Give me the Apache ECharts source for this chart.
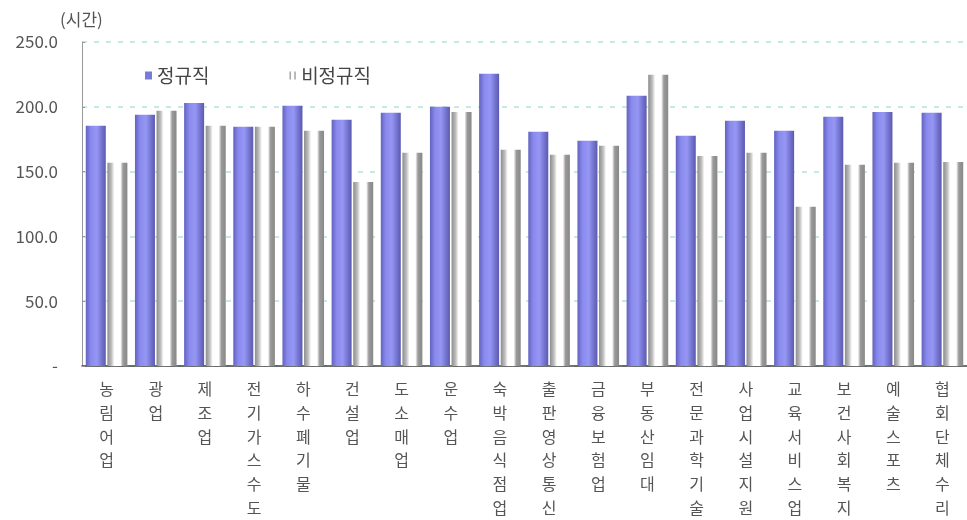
<!DOCTYPE html>
<html>
<head>
<meta charset="utf-8">
<script src="https://cdn.jsdelivr.net/npm/echarts@6/dist/echarts.min.js"></script>
<style>
    html, body { margin: 0; padding: 0; background: #fff; }
    #chart { width: 967px; height: 520px; }
</style>
</head>
<body>
<div id="chart"></div>
<script>
	// 산업 분류
	var categories = ['농림어업', '광업', '제조업', '전기가스수도', '하수폐기물', '건설업', '도소매업', '운수업',
		'숙박음식점업', '출판영상통신', '금융보험업', '부동산임대', '전문과학기술', '사업시설지원',
		'교육서비스업', '보건사회복지', '예술스포츠', '협회단체수리']
	// 정규직 근로시간
	var regular = [185.3, 193.8, 203.0, 184.6, 200.8, 190.0, 195.4, 200.0, 225.5, 180.7,
		173.8, 208.5, 177.6, 189.2, 181.5, 192.3, 196.0, 195.4]
	// 비정규직 근로시간
	var irregular = [156.8, 196.9, 185.3, 184.6, 181.5, 142.0, 164.5, 196.0, 166.8, 163.0,
		170.0, 224.7, 162.0, 164.5, 122.8, 155.2, 156.8, 157.5]
	var yTicks = [0, 50, 100, 150, 200, 250]

	var chart = echarts.init(document.getElementById('chart'))
	var font = '"Noto Sans CJK KR", sans-serif'

	chart.setOption({
		animation: false,
		textStyle: { fontFamily: font },
		grid: { left: 82, right: 0, top: 42, bottom: 154 },
		legend: {
			left: 140,
			top: 61,
			itemGap: 80,
			itemWidth: 7,
			itemHeight: 8,
			textStyle: { fontSize: 19, color: '#444', fontFamily: font },
			data: [
				{ name: '정규직', icon: 'rect', itemStyle: { color: '#7a7ad8' } },
				{ name: '비정규직', icon: 'path://M0,0h2v10h-2z M6,0h2v10h-2z', itemStyle: { color: '#aaa' } }
			]
		},
		xAxis: {
			type: 'category',
			data: categories,
			axisLine: { lineStyle: { color: '#444', width: 1.5 } },
			axisTick: { inside: true, length: 4, lineStyle: { color: '#444' } },
			axisLabel: {
				interval: 0,
				margin: 11,
				color: '#555',
				fontSize: 16,
				lineHeight: 23.8,
				verticalAlign: 'top',
				formatter: function (v) { return v.split('').join('\n') }
			}
		},
		yAxis: {
			type: 'value',
			min: yTicks[0],
			max: yTicks[yTicks.length - 1],
			interval: 50,
			name: '(시간)',
			nameLocation: 'end',
			nameGap: 14,
			nameTextStyle: { color: '#555', fontSize: 17, align: 'left', padding: [0, 0, 0, -22] },
			axisLine: { show: true, lineStyle: { color: '#999' } },
			axisTick: { show: true, inside: true, length: 3, lineStyle: { color: '#999' } },
			axisLabel: {
				color: '#555',
				fontSize: 17,
				margin: 24,
				formatter: function (v) { return v === 0 ? '-' : v.toFixed(1) }
			},
			splitLine: { lineStyle: { color: '#b5e2dc', type: [5, 7], width: 1.5 } }
		},
		series: [
			{
				name: '정규직',
				type: 'bar',
				data: regular,
				barWidth: 20,
				barGap: '8%',
				itemStyle: {
					color: new echarts.graphic.LinearGradient(0, 0, 1, 0, [
						{ offset: 0, color: '#6262c0' },
						{ offset: 0.25, color: '#8a8aee' },
						{ offset: 0.55, color: '#9696f4' },
						{ offset: 0.8, color: '#7474d0' },
						{ offset: 1, color: '#5a5ab0' }
					])
				}
			},
			{
				name: '비정규직',
				type: 'bar',
				data: irregular,
				barWidth: 20,
				itemStyle: {
					color: new echarts.graphic.LinearGradient(0, 0, 1, 0, [
						{ offset: 0, color: '#8c8c8c' },
						{ offset: 0.2, color: '#bdbdbd' },
						{ offset: 0.35, color: '#ffffff' },
						{ offset: 0.65, color: '#ffffff' },
						{ offset: 0.78, color: '#9a9a9a' },
						{ offset: 1, color: '#888888' }
					])
				}
			}
		]
	})
</script>
</body>
</html>
